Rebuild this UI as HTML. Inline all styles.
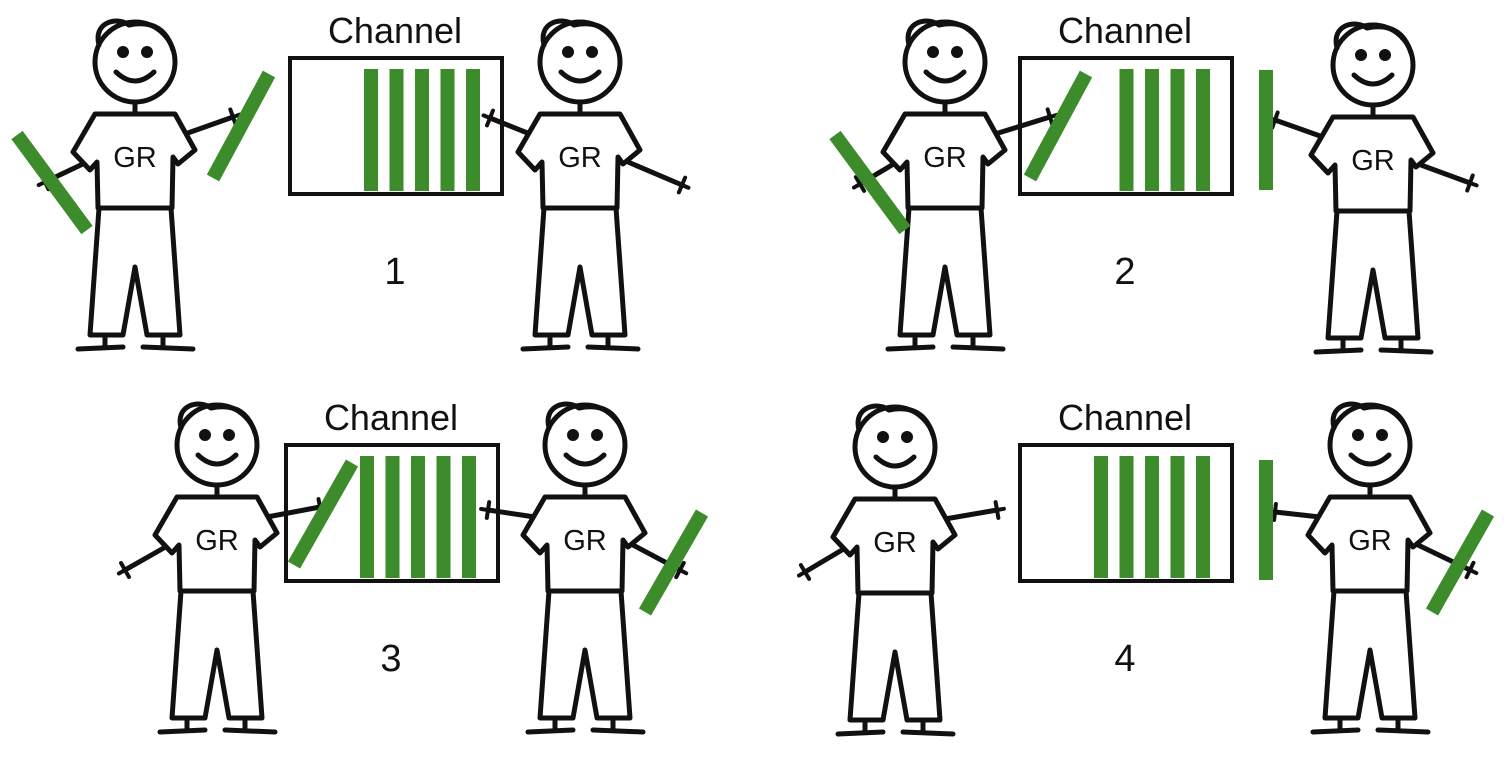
<!DOCTYPE html>
<html><head><meta charset="utf-8"><style>
html,body{margin:0;padding:0;background:#fff;}
svg{display:block;}
text{font-family:"Liberation Sans",sans-serif;fill:#111;}
</style></head><body>
<svg id="s" width="1504" height="766" viewBox="0 0 1504 766"></svg>
<script>
const panelLabels=["1","2","3","4"];
const barCounts=[5,4,5,5];
const NS="http://www.w3.org/2000/svg";
const svg=document.getElementById('s');
const G="#3d8c2b";
function mk(tag,attrs,parent){const e=document.createElementNS(NS,tag);for(const k in attrs)e.setAttribute(k,attrs[k]);(parent||svg).appendChild(e);return e;}
function stick(x1,y1,x2,y2,p){const l=mk('line',{x1,y1,x2,y2,stroke:G,'stroke-width':14,'stroke-linecap':'butt'},p);

}
function hand(x,y,dx,dy,p){
 const nx=-dy,ny=dx;
 mk('line',{x1:x+nx*8,y1:y+ny*8,x2:x-nx*8,y2:y-ny*8,stroke:'#111','stroke-width':4},p);
 mk('line',{x1:x,y1:y,x2:x+dx*7,y2:y+dy*7,stroke:'#111','stroke-width':4},p);
}
function person(hx,hy,left,right){
 const g=mk('g',{fill:'none',stroke:'#111','stroke-width':5,'stroke-linejoin':'round','stroke-linecap':'round'});
 
 
 [[-1,left],[1,right]].forEach(([sg,a])=>{
  const s = a.y < hy+85 ? [hx+sg*50,hy+72] : [hx+sg*48,hy+100];
  mk('line',{x1:s[0],y1:s[1],x2:a.x,y2:a.y},g);
  const d=Math.hypot(a.x-s[0],a.y-s[1]);hand(a.x,a.y,(a.x-s[0])/d,(a.y-s[1])/d,g);
 });
 mk('circle',{cx:hx,cy:hy,r:40,fill:'#fff'},g);
 mk('path',{fill:'none',d:`M${hx-36} ${hy-17} C${hx-42} ${hy-40} ${hx-18} ${hy-46} ${hx-6} ${hy-37}`},g);
 mk('path',{fill:'none',d:`M${hx-6} ${hy-37} Q${hx+28} ${hy-44} ${hx+38} ${hy-12}`},g);
 mk('circle',{cx:hx-12,cy:hy-10,r:3.5,fill:'#111'},g);
 mk('circle',{cx:hx+12,cy:hy-10,r:3.5,fill:'#111'},g);
 mk('path',{d:`M${hx-19} ${hy+10} Q${hx} ${hy+28} ${hx+19} ${hy+10}`},g);
 mk('line',{x1:hx,y1:hy+40,x2:hx,y2:hy+50},g);
 mk('path',{fill:'#fff',d:`M${hx-40} ${hy+52} L${hx+40} ${hy+52} L${hx+60} ${hy+88} L${hx+43} ${hy+102} L${hx+38} ${hy+95} L${hx+37} ${hy+146} L${hx-37} ${hy+146} L${hx-38} ${hy+100} L${hx-45} ${hy+108} L${hx-62} ${hy+90} Z`},g);
 mk('path',{fill:'#fff',d:`M${hx-36} ${hy+146} L${hx+36} ${hy+146} L${hx+45} ${hy+273} L${hx+12} ${hy+273} L${hx} ${hy+205} L${hx-12} ${hy+273} L${hx-45} ${hy+273} Z`},g);
 mk('line',{x1:hx-30,y1:hy+273,x2:hx-30,y2:hy+285},g);
 mk('line',{x1:hx+28,y1:hy+273,x2:hx+28,y2:hy+285},g);
 mk('line',{x1:hx-57,y1:hy+287,x2:hx-12,y2:hy+285},g);
 mk('line',{x1:hx+8,y1:hy+285,x2:hx+58,y2:hy+287},g);
 const t=mk('text',{x:hx,y:hy+105,'text-anchor':'middle','font-size':29,stroke:'none',fill:'#111'},g);t.textContent='GR';
 
 
}
function channel(x,y,idx){
 const g=mk('g',{});
 
 
 const t=mk('text',{x:x+105,y:y-15,'text-anchor':'middle','font-size':36},g);t.textContent='Channel';
 
 
 mk('rect',{x,y,width:212,height:136,fill:'#fff',stroke:'#111','stroke-width':4},g);
 const n=barCounts[idx];
 for(let i=0;i<n;i++){const bx=x+190-(n-1-i)*25.5-7;
  const r=mk('rect',{x:bx-7,y:y+11,width:14,height:122,fill:G},g);
  
  }
 const l=mk('text',{x:x+105,y:y+226,'text-anchor':'middle','font-size':38},g);l.textContent=panelLabels[idx];
 
 
}
// Panel 1
channel(290,58,0);
person(135,62,{x:45,y:182},{x:233,y:117});
stick(17,135,87,230);stick(269,74,213,178);
person(580,62,{x:490,y:118},{x:682,y:185});
// Panel 2
channel(1020,58,1);
person(945,62,{x:860,y:184},{x:1050,y:117});
stick(835,135,905,230);stick(1086,74,1030,178);
person(1373,65,{x:1275,y:120},{x:1470,y:183});
stick(1266,70,1266,190);
// Panel 3
channel(286,445,2);
person(217,445,{x:125,y:570},{x:320,y:507});
stick(294,565,352,463);
person(585,445,{x:488,y:510},{x:680,y:570});
stick(645,612,702,513);
// Panel 4
channel(1020,445,3);
person(895,447,{x:805,y:572},{x:997,y:510});
person(1370,445,{x:1275,y:512},{x:1470,y:570});
stick(1266,460,1266,580);stick(1432,612,1488,513);
</script>
</body></html>
